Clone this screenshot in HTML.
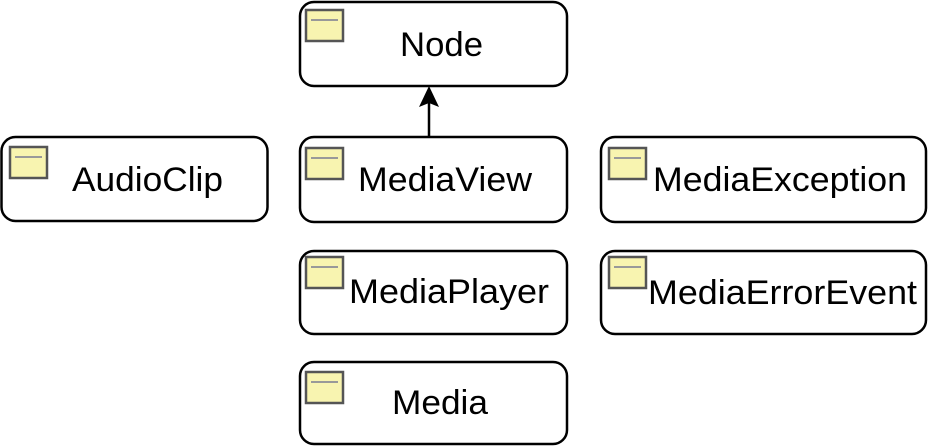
<!DOCTYPE html>
<html><head><meta charset="utf-8"><style>
html,body{margin:0;padding:0;background:#fff;}
svg{display:block;}
text{font-family:"Liberation Sans",Arial,sans-serif;font-size:34px;fill:#000;}
</style></head><body>
<svg width="929" height="446" viewBox="0 0 929 446" xmlns="http://www.w3.org/2000/svg">
<defs>
<g id="ic">
<rect x="0" y="0" width="37" height="31" fill="#f8f4b0" stroke="#555" stroke-width="2.5"/>
<line x1="5" y1="10" x2="32" y2="10" stroke="#999" stroke-width="2"/>
</g>
</defs>
<g fill="#fff" stroke="#000" stroke-width="2.5">
<rect x="300" y="2" width="267" height="84" rx="14"/>
<rect x="1.5" y="137" width="266" height="84" rx="14"/>
<rect x="300" y="137" width="267" height="85" rx="14"/>
<rect x="601" y="137" width="325" height="85" rx="14"/>
<rect x="300" y="251" width="267" height="83" rx="14"/>
<rect x="601" y="251" width="325" height="83" rx="14"/>
<rect x="300" y="362" width="267" height="82" rx="14"/>
</g>
<use href="#ic" x="306" y="10"/>
<use href="#ic" x="10" y="147"/>
<use href="#ic" x="306" y="148"/>
<use href="#ic" x="609" y="148"/>
<use href="#ic" x="306" y="257"/>
<use href="#ic" x="609" y="257"/>
<use href="#ic" x="306" y="372"/>
<line x1="429" y1="137" x2="429" y2="100" stroke="#000" stroke-width="2.5"/>
<polygon points="429,86 419,107 429,103 439,107" fill="#000"/>
<text x="400" y="56" textLength="83" lengthAdjust="spacingAndGlyphs">Node</text>
<text x="72" y="191" textLength="151" lengthAdjust="spacingAndGlyphs">AudioClip</text>
<text x="358" y="191" textLength="174" lengthAdjust="spacingAndGlyphs">MediaView</text>
<text x="653" y="191" textLength="254" lengthAdjust="spacingAndGlyphs">MediaException</text>
<text x="349" y="303" textLength="200" lengthAdjust="spacingAndGlyphs">MediaPlayer</text>
<text x="648" y="304" textLength="269" lengthAdjust="spacingAndGlyphs">MediaErrorEvent</text>
<text x="392" y="414" textLength="96" lengthAdjust="spacingAndGlyphs">Media</text>
</svg>
</body></html>
